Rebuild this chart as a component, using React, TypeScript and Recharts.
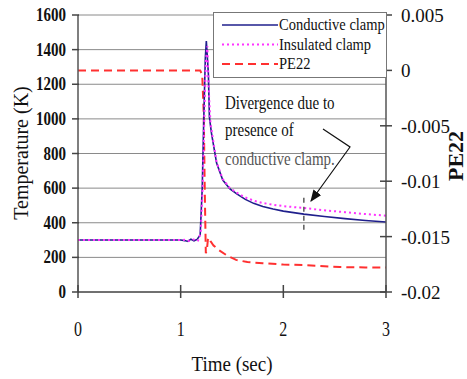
import {
  CartesianGrid,
  ComposedChart,
  Legend,
  Line,
  ReferenceLine,
  XAxis,
  YAxis,
} from 'recharts'

const FONT = 'Liberation Serif, Times New Roman, serif'

// conductive clamp: time (s) / temperature (K)
const condTime = [0, 0.5, 1.0, 1.04, 1.07, 1.1, 1.13, 1.16, 1.19, 1.21, 1.225, 1.24, 1.25, 1.27, 1.28, 1.3, 1.35, 1.41, 1.48, 1.55, 1.63, 1.71, 1.8, 1.9, 2.0, 2.2, 2.4, 2.6, 2.8, 3.0]
const condTemp = [300, 300, 300, 297, 292, 305, 296, 304, 330, 600, 1000, 1350, 1450, 1260, 1010, 918, 745, 647, 595, 565, 535, 512, 494, 479, 467, 450, 436, 424, 413, 404]

// insulated clamp
const insTime = [0, 0.5, 1.0, 1.05, 1.08, 1.11, 1.14, 1.17, 1.195, 1.215, 1.23, 1.245, 1.26, 1.275, 1.29, 1.31, 1.35, 1.41, 1.48, 1.55, 1.63, 1.71, 1.8, 1.9, 2.0, 2.2, 2.4, 2.6, 2.8, 3.0]
const insTemp = [300, 300, 300, 302, 295, 300, 306, 298, 340, 620, 1000, 1330, 1420, 1150, 980, 900, 750, 652, 600, 572, 546, 528, 514, 504, 496, 485, 472, 461, 450, 441]

// PE22 (right axis)
const peTime = [0, 1.0, 1.19, 1.21, 1.225, 1.235, 1.245, 1.255, 1.265, 1.275, 1.29, 1.32, 1.37, 1.45, 1.54, 1.65, 1.8, 2.0, 2.2, 2.55, 2.8, 3.0]
const peValue = [0, 0, 0, -0.0004, -0.004, -0.011, -0.0165, -0.0162, -0.0153, -0.0151, -0.0154, -0.0158, -0.0162, -0.0167, -0.0171, -0.0173, -0.0174, -0.01752, -0.01757, -0.01775, -0.01778, -0.0178]

const tempTicks = [0, 200, 400, 600, 800, 1000, 1200, 1400, 1600]
const peTicks = [-0.02, -0.015, -0.01, -0.005, 0, 0.005]
const timeTicks = [0, 1, 2, 3]

const zip = (ts: number[], vs: number[]) => ts.map((t, i) => ({ t, v: vs[i] }))

const series = [
  { name: 'Conductive clamp', data: zip(condTime, condTemp), color: '#1f1f8c', dash: undefined, width: 1.6 },
  { name: 'Insulated clamp', data: zip(insTime, insTemp), color: '#ff33ff', dash: '2 3', width: 2 },
  { name: 'PE22', data: zip(peTime, peValue), color: '#ff3030', dash: '8 5', width: 2 },
]

function TempTick({ x, y, payload }: any) {
  return (
    <g>
      <line x1={x - 6} x2={x + 1} y1={y} y2={y} stroke="#444" strokeWidth={1.5} />
      <text
        transform={`translate(${x - 12},${y + 6}) scale(1,1.2)`}
        textAnchor="end"
        style={{ fontFamily: FONT, fontSize: 15, fontWeight: 'bold' }}
        fill="#111"
      >
        {payload.value}
      </text>
    </g>
  )
}

function PeTick({ x, y, payload }: any) {
  return (
    <g>
      <line x1={x - 6} x2={x + 6} y1={y} y2={y} stroke="#444" strokeWidth={1.5} />
      <text x={x + 15} y={y + 7} style={{ fontFamily: FONT, fontSize: 19 }} fill="#111">
        {String(payload.value)}
      </text>
    </g>
  )
}

function TimeTick({ x, y, payload }: any) {
  return (
    <g>
      <line x1={x} x2={x} y1={y - 7} y2={y + 6} stroke="#444" strokeWidth={1.5} />
      <text
        transform={`translate(${x},${y + 44}) scale(1,1.35)`}
        textAnchor="middle"
        style={{ fontFamily: FONT, fontSize: 16 }}
        fill="#111"
      >
        {payload.value}
      </text>
    </g>
  )
}

function LegendBox() {
  return (
    <svg width={174} height={66} style={{ display: 'block' }}>
      <rect x={0.5} y={0.5} width={173} height={65} fill="#fff" stroke="#777" />
      {series.map((s, i) => {
        const cy = 13 + i * 19.5
        return (
          <g key={s.name}>
            <line x1={9} x2={65} y1={cy} y2={cy} stroke={s.color} strokeWidth={s.width} strokeDasharray={s.dash} />
            <text
              transform={`translate(66,${cy + 5}) scale(1,1.15)`}
              style={{ fontFamily: FONT, fontSize: 14.5 }}
              fill="#111"
            >
              {s.name}
            </text>
          </g>
        )
      })}
    </svg>
  )
}

export default function App() {
  return (
    <div
      style={{
        position: 'absolute',
        left: 0,
        top: 0,
        width: 467,
        height: 379,
        background: '#fff',
        fontFamily: FONT,
      }}
    >
      <ComposedChart width={467} height={379} margin={{ top: 15, right: 0, bottom: 0, left: 0 }}>
        <CartesianGrid vertical={false} stroke="#8a8a8a" />
        <XAxis
          type="number"
          dataKey="t"
          domain={[0, 3]}
          ticks={timeTicks}
          interval={0}
          height={87}
          tickSize={0}
          tickMargin={0}
          tickLine={false}
          axisLine={{ stroke: '#555', strokeWidth: 1.5 }}
          tick={<TimeTick />}
        />
        <YAxis
          domain={[0, 1600]}
          ticks={tempTicks}
          interval={0}
          width={78}
          tickSize={0}
          tickMargin={0}
          tickLine={false}
          axisLine={{ stroke: '#555', strokeWidth: 1.5 }}
          tick={<TempTick />}
        />
        <YAxis
          yAxisId="pe"
          orientation="right"
          domain={[-0.02, 0.005]}
          ticks={peTicks}
          interval={0}
          width={81}
          tickSize={0}
          tickMargin={0}
          tickLine={false}
          axisLine={{ stroke: '#555', strokeWidth: 1.5 }}
          tick={<PeTick />}
        />
        <Legend
          layout="horizontal"
          verticalAlign="middle"
          align="center"
          wrapperStyle={{ left: 213, top: 12, width: 174, height: 66 }}
          content={() => <LegendBox />}
        />
        <Line
          yAxisId="pe"
          data={series[2].data}
          dataKey="v"
          name={series[2].name}
          type="linear"
          stroke={series[2].color}
          strokeWidth={series[2].width}
          strokeDasharray={series[2].dash}
          dot={false}
          isAnimationActive={false}
        />
        <Line
          data={series[0].data}
          dataKey="v"
          name={series[0].name}
          type="linear"
          stroke={series[0].color}
          strokeWidth={series[0].width}
          dot={false}
          isAnimationActive={false}
        />
        <Line
          data={series[1].data}
          dataKey="v"
          name={series[1].name}
          type="linear"
          stroke={series[1].color}
          strokeWidth={series[1].width}
          strokeDasharray={series[1].dash}
          dot={false}
          isAnimationActive={false}
        />
        <ReferenceLine
          segment={[{ x: 2.2, y: 360 }, { x: 2.2, y: 560 }]}
          stroke="#333"
          strokeWidth={1.2}
          strokeDasharray="5 4"
        />
      </ComposedChart>
      <svg
        width={467}
        height={379}
        style={{ position: 'absolute', left: 0, top: 0, pointerEvents: 'none', fontFamily: FONT }}
      >
        <defs>
          <marker id="ah" markerWidth={10} markerHeight={8} refX={9} refY={4} orient="auto">
            <path d="M0,0 L10,4 L0,8 z" fill="#111" />
          </marker>
        </defs>
        <g style={{ fontFamily: FONT, fontSize: 15 }}>
          <text transform="translate(225,109) scale(1,1.2)" fill="#111">Divergence due to</text>
          <text transform="translate(225,136) scale(1,1.2)" fill="#111">presence of</text>
          <text transform="translate(225,165) scale(1,1.2)" fill="#555">conductive clamp.</text>
        </g>
        <polyline
          points="323,129 350,147 311,201"
          fill="none"
          stroke="#111"
          strokeWidth={1.2}
          markerEnd="url(#ah)"
        />
        <text
          transform="translate(28,153) rotate(-90)"
          textAnchor="middle"
          style={{ fontFamily: FONT, fontSize: 20 }}
          fill="#111"
        >
          Temperature (K)
        </text>
        <text
          transform="translate(232,371) scale(1,1.05)"
          textAnchor="middle"
          style={{ fontFamily: FONT, fontSize: 19 }}
          fill="#111"
        >
          Time (sec)
        </text>
        <text
          transform="translate(463,156) rotate(-90)"
          textAnchor="middle"
          style={{ fontFamily: FONT, fontSize: 22, fontWeight: 'bold' }}
          fill="#111"
        >
          PE22
        </text>
      </svg>
    </div>
  )
}
